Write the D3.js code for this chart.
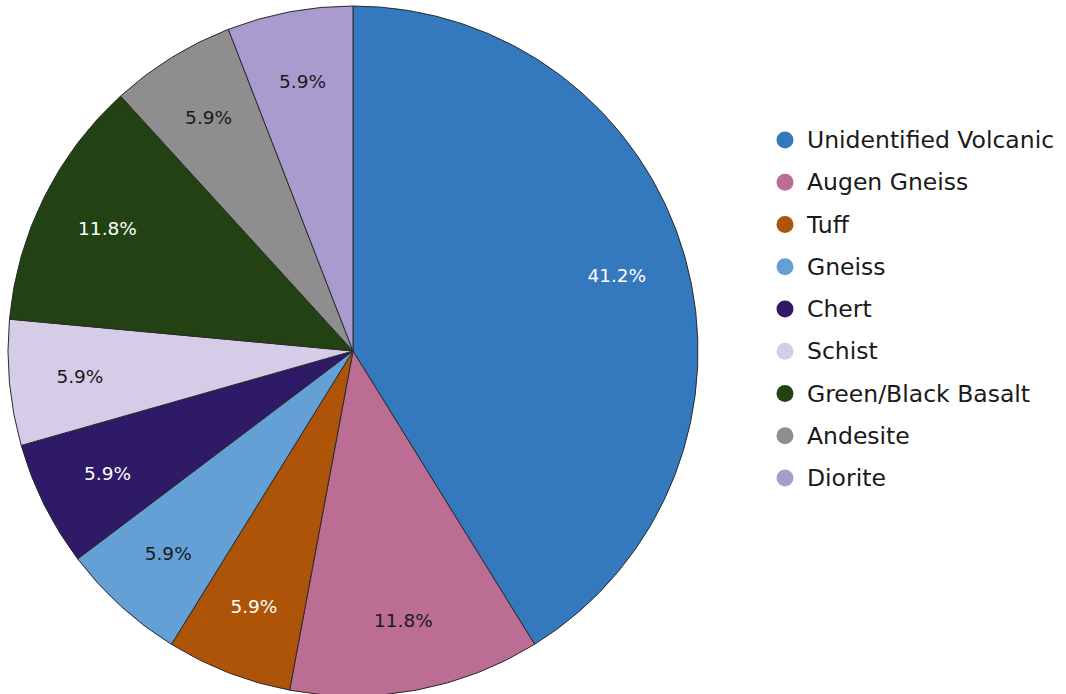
<!DOCTYPE html>
<html>
<head>
<meta charset="utf-8">
<script src="https://cdn.jsdelivr.net/npm/d3@7"></script>
<style>
  html, body { margin: 0; padding: 0; background: #fff; }
  svg { display: block; }
</style>
</head>
<body>
<svg id="chart" width="1066" height="694"></svg>
<script>
const categories = ["Unidentified Volcanic", "Augen Gneiss", "Tuff", "Gneiss", "Chert", "Schist", "Green/Black Basalt", "Andesite", "Diorite"];
const counts = [7, 2, 1, 1, 1, 1, 2, 1, 1];
const colors = ["#3478be", "#bb6d93", "#ad5408", "#64a0d6", "#2e1a67", "#d5cce7", "#234214", "#8e8e8e", "#aa9bcf"];
const labelColors = ["#ffffff", "#1a1a1a", "#ffffff", "#1a1a1a", "#ffffff", "#1a1a1a", "#ffffff", "#1a1a1a", "#1a1a1a"];

const svg = d3.select("#chart");
const cx = 353, cy = 351, r = 345;
const total = d3.sum(counts);
const data = categories.map((c, i) => ({ name: c, value: counts[i], i }));

const pie = d3.pie().value(d => d.value).sort(null);
const arc = d3.arc().innerRadius(0).outerRadius(r);
const labelArc = d3.arc().innerRadius(r * 0.795).outerRadius(r * 0.795);
const color = d3.scaleOrdinal().domain(categories).range(colors);

const g = svg.append("g").attr("transform", `translate(${cx},${cy})`);
const arcs = pie(data);

g.selectAll("path").data(arcs).join("path")
  .attr("d", arc)
  .attr("fill", d => color(d.data.name))
  .attr("stroke", "#2b2b2b")
  .attr("stroke-width", 1);

const fmt = d3.format(".1%");
g.selectAll("text").data(arcs).join("text")
  .attr("transform", d => `translate(${labelArc.centroid(d)})`)
  .attr("text-anchor", "middle")
  .attr("dominant-baseline", "central")
  .attr("font-family", "DejaVu Sans, Verdana, sans-serif")
  .attr("font-size", 18.5)
  .attr("fill", d => labelColors[d.data.i])
  .text(d => fmt(d.data.value / total));

const legend = svg.append("g").attr("transform", "translate(785,140)");
const ly = d3.scalePoint().domain(categories).range([0, 338]);
const items = legend.selectAll("g").data(categories).join("g")
  .attr("transform", d => `translate(0,${ly(d)})`);
items.append("circle").attr("r", 8.5).attr("fill", d => color(d));
items.append("text")
  .attr("x", 22)
  .attr("dominant-baseline", "central")
  .attr("font-family", "DejaVu Sans, Verdana, sans-serif")
  .attr("font-size", 23.5)
  .attr("fill", "#1a1a1a")
  .text(d => d);
</script>
</body>
</html>
